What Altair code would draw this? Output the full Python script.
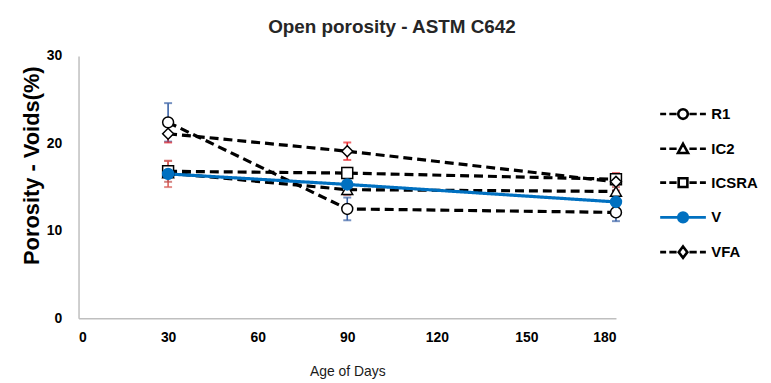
import altair as alt
import pandas as pd

days = [30, 90, 180]
series = ["R1", "IC2", "ICSRA", "V", "VFA"]

r1 = [22.4, 12.5, 12.1]
ic2 = [16.6, 14.7, 14.5]
icsra = [16.8, 16.6, 15.9]
v = [16.5, 15.3, 13.3]
vfa = [21.1, 19.1, 15.6]

r1_err = [2.2, 1.3, 1.0]
ic2_err = [0.5, 0.6, 0.5]
icsra_err = [1.2, 0.6, 0.6]
v_err = [1.5, 0.8, 0.6]
vfa_err = [1.0, 1.0, 1.0]

x_ticks = [0, 30, 60, 90, 120, 150, 180]
y_ticks = [0, 10, 20, 30]

values = {"R1": r1, "IC2": ic2, "ICSRA": icsra, "V": v, "VFA": vfa}
errors = {"R1": r1_err, "IC2": ic2_err, "ICSRA": icsra_err, "V": v_err, "VFA": vfa_err}

rows = []
for s in series:
    for d, val, e in zip(days, values[s], errors[s]):
        rows.append({"series": s, "day": d, "value": val, "lo": val - e, "hi": val + e})
df = pd.DataFrame(rows)

BLUE = "#0070C0"
err_colors = ["#3A62A6", "#C0504D", "#C0504D", "#D9605A", "#E8262B"]
line_colors = ["black", "black", "black", BLUE, "black"]
dashes = [[9, 5], [9, 5], [9, 5], [1, 0], [9, 5]]
shapes = ["circle", "triangle-up", "square", "circle", "diamond"]
fills = ["white", "white", "white", BLUE, "white"]

dl = "M-1,0H-0.74M-0.6,0H-0.28M0.28,0H0.6M0.74,0H1"
circ = "M0.21,0A0.21,0.21 0 1,1 -0.21,0A0.21,0.21 0 1,1 0.21,0Z"
legend_paths = [
    dl + circ,
    dl + "M0,-0.22L0.22,0.18L-0.22,0.18Z",
    dl + "M-0.19,-0.19H0.19V0.19H-0.19Z",
    "M-1,0H1" + circ,
    dl + "M0,-0.25L0.19,0L0,0.25L-0.19,0Z",
]

YT = "Porosity - Voids(%)"
XT = "Age of Days"

xs = alt.Scale(domain=[0, 180], nice=False)
ys = alt.Scale(domain=[0, 30], nice=False)
xaxis = alt.Axis(values=x_ticks, title=XT)
yaxis = alt.Axis(values=y_ticks, title=YT)


def X():
    return alt.X("day:Q", scale=xs, axis=xaxis)


def sc(rng):
    return alt.Scale(domain=series, range=rng)


base = alt.Chart(df)

err_rule = base.mark_rule(strokeWidth=1.6).encode(
    x=X(),
    y=alt.Y("lo:Q", scale=ys, axis=yaxis),
    y2="hi:Q",
    color=alt.Color("series:N", scale=sc(err_colors), legend=None),
)
cap_lo = base.mark_tick(orient="horizontal", size=8, thickness=2).encode(
    x=X(),
    y=alt.Y("lo:Q", scale=ys, axis=yaxis),
    color=alt.Color("series:N", scale=sc(err_colors), legend=None),
)
cap_hi = base.mark_tick(orient="horizontal", size=8, thickness=2).encode(
    x=X(),
    y=alt.Y("hi:Q", scale=ys, axis=yaxis),
    color=alt.Color("series:N", scale=sc(err_colors), legend=None),
)
lines = base.mark_line(strokeWidth=3.2).encode(
    x=X(),
    y=alt.Y("value:Q", scale=ys, axis=yaxis),
    stroke=alt.Stroke("series:N", scale=sc(line_colors), legend=None),
    strokeDash=alt.StrokeDash("series:N", scale=sc(dashes), legend=None),
)
points = base.mark_point(filled=True, size=121, strokeWidth=1.5, opacity=1).encode(
    x=X(),
    y=alt.Y("value:Q", scale=ys, axis=yaxis),
    shape=alt.Shape("series:N", scale=sc(shapes), legend=None),
    fill=alt.Fill("series:N", scale=sc(fills), legend=None),
    stroke=alt.Stroke("series:N", scale=sc(line_colors), legend=None),
)
leg = alt.Legend(title=None, symbolOpacity=1)
legend_layer = base.mark_point(filled=True, opacity=0).encode(
    x=X(),
    y=alt.Y("value:Q", scale=ys, axis=yaxis),
    shape=alt.Shape("series:N", scale=sc(legend_paths), legend=leg),
    fill=alt.Fill("series:N", scale=sc(fills), legend=leg),
    stroke=alt.Stroke("series:N", scale=sc(line_colors), legend=leg),
)

chart = (
    alt.layer(err_rule, cap_lo, cap_hi, lines, points, legend_layer)
    .resolve_scale(shape="independent", fill="independent", stroke="independent",
                   color="independent", strokeDash="independent")
    .properties(
        width=541,
        height=264,
        padding={"left": 12, "top": 9, "right": 5, "bottom": 5},
        title=alt.TitleParams(
            "Open porosity - ASTM C642", font="Liberation Sans", fontSize=19,
            fontWeight="bold", color="#262626", anchor="middle", dx=45, offset=12,
        ),
    )
    .configure_view(stroke=None)
    .configure_axis(
        grid=False, ticks=False, domainColor="#BFBFBF", domainWidth=1.5,
        labelFont="Liberation Sans", labelFontSize=14, labelFontWeight="bold",
        labelColor="black", labelPadding=14,
    )
    .configure_axisY(
        titleFont="Liberation Sans", titleFontSize=22, titleFontWeight="bold",
        titleColor="black", titleX=-47, titleY=110, titleBaseline="middle",
        labelPadding=17,
    )
    .configure_axisX(
        titleFont="Liberation Sans", titleFontSize=14, titleFontWeight="normal",
        titleColor="#1a1a1a", titlePadding=21, labelPadding=12,
    )
    .configure_legend(
        orient="none", legendX=584, legendY=34, symbolSize=2116,
        symbolStrokeWidth=2.6, labelFont="Liberation Sans", labelFontSize=15,
        labelFontWeight="bold", labelColor="black", labelOffset=4, rowPadding=-3.5,
    )
)

chart.save("out.html", embed_options={"renderer": "svg", "actions": False})
